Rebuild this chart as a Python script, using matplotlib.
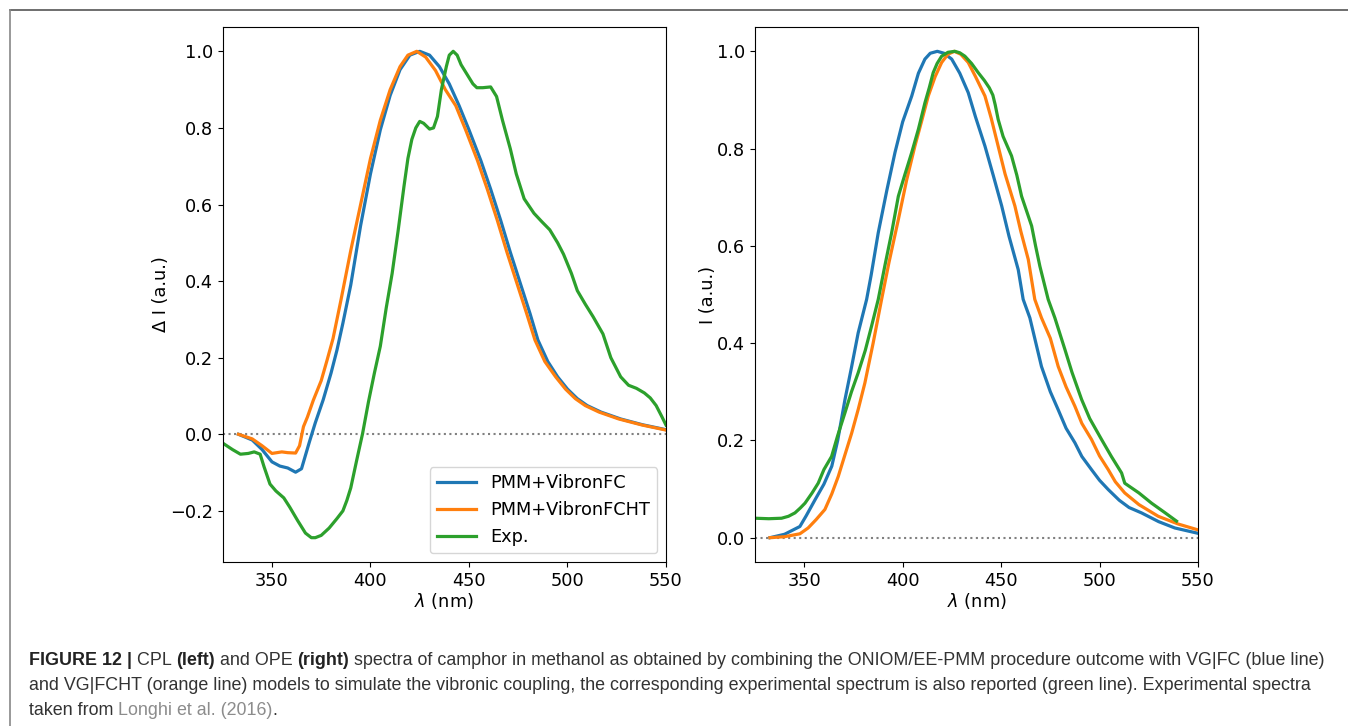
import numpy as np
import matplotlib
matplotlib.use("Agg")
import matplotlib.pyplot as plt
from matplotlib.lines import Line2D

# ---- CPL (left panel) ----
cpl_fc_x = [333, 340, 345, 350, 354, 358, 362, 365, 369, 372, 376, 380, 383, 386, 390, 395,
            400, 405, 410, 415, 420, 425, 430, 435, 440, 445, 450, 456, 461, 466, 471, 476,
            481, 485, 490, 495, 500, 505, 510, 517, 527, 538, 550]
cpl_fc_y = [0.0, -0.015, -0.04, -0.072, -0.083, -0.088, -0.099, -0.09, -0.02, 0.03, 0.09, 0.16,
            0.22, 0.29, 0.39, 0.545, 0.68, 0.795, 0.885, 0.952, 0.99, 1.0, 0.99, 0.96, 0.915,
            0.858, 0.795, 0.715, 0.64, 0.56, 0.475, 0.395, 0.315, 0.246, 0.19, 0.15, 0.118,
            0.093, 0.075, 0.058, 0.04, 0.025, 0.012]
cpl_fcht_x = [333, 340, 345, 350, 355, 358, 362, 364, 366, 368, 371, 375, 378, 381, 385, 390,
              395, 400, 405, 410, 415, 419, 423.5, 428, 433, 438, 443.3, 448.3, 454.3, 459.3,
              464.3, 469.3, 474.3, 479.3, 483.5, 488.5, 494, 499, 504, 509, 516, 526, 538, 550]
cpl_fcht_y = [0.0, -0.012, -0.03, -0.05, -0.046, -0.048, -0.049, -0.03, 0.02, 0.045, 0.089,
              0.14, 0.194, 0.25, 0.35, 0.48, 0.6, 0.72, 0.82, 0.9, 0.96, 0.99, 1.0, 0.985,
              0.95, 0.9, 0.858, 0.795, 0.715, 0.64, 0.56, 0.475, 0.395, 0.315, 0.246, 0.19,
              0.15, 0.118, 0.093, 0.075, 0.058, 0.04, 0.024, 0.011]
cpl_exp_x = [325, 330, 334, 338, 341, 344, 346, 349, 352, 356, 359, 363, 367, 370, 372, 375,
             379, 383, 386, 388, 390, 393, 396, 399, 402, 405, 408, 411, 414, 417, 419, 421,
             423, 425, 427, 430, 432, 434, 436, 438.5, 440, 442, 444, 446, 449, 452, 454,
             457, 461, 464, 467, 471, 474, 478, 483, 487, 491, 495, 498, 502, 505, 509, 513,
             518, 522, 527, 531, 535, 539, 542, 545, 548, 550]
cpl_exp_y = [-0.023, -0.04, -0.052, -0.05, -0.046, -0.052, -0.085, -0.13, -0.148, -0.166,
             -0.19, -0.225, -0.258, -0.27, -0.27, -0.264, -0.245, -0.22, -0.2, -0.173, -0.14,
             -0.068, 0.002, 0.085, 0.16, 0.23, 0.33, 0.42, 0.53, 0.647, 0.72, 0.77, 0.8, 0.817,
             0.812, 0.797, 0.8, 0.83, 0.9, 0.96, 0.99, 1.0, 0.99, 0.965, 0.94, 0.915, 0.905,
             0.905, 0.907, 0.882, 0.82, 0.745, 0.68, 0.615, 0.577, 0.555, 0.534, 0.5, 0.47,
             0.42, 0.375, 0.34, 0.307, 0.262, 0.2, 0.15, 0.128, 0.12, 0.108, 0.095, 0.075,
             0.045, 0.024]

# ---- OPE (right panel) ----
ope_fc_x = [332.6, 340, 347.8, 351, 355.5, 360, 364, 367, 370.7, 374, 377.4, 381.7, 384,
            387.6, 392, 396.1, 400, 404.6, 408, 411.3, 414, 417.6, 421, 424.9, 429, 433.3,
            437, 441.8, 446, 450.3, 454, 458.7, 461.2, 464.6, 470.5, 475, 479, 483, 487.5,
            491, 495.9, 500, 504.4, 510, 515, 521.3, 530, 538.2, 550]
ope_fc_y = [0.0, 0.007, 0.023, 0.045, 0.078, 0.11, 0.147, 0.2, 0.284, 0.35, 0.421, 0.49,
            0.54, 0.627, 0.715, 0.792, 0.855, 0.908, 0.955, 0.984, 0.996, 1.0, 0.996, 0.984,
            0.955, 0.915, 0.865, 0.805, 0.745, 0.682, 0.62, 0.551, 0.49, 0.452, 0.352, 0.3,
            0.263, 0.225, 0.195, 0.167, 0.14, 0.118, 0.099, 0.077, 0.062, 0.051, 0.033, 0.02,
            0.009]
ope_fcht_x = [332.6, 340, 347.8, 352, 356, 360.5, 364, 367.3, 370.5, 374.1, 377.5, 380.8,
              385, 389.3, 393, 397.8, 402, 406.2, 410, 413, 416.5, 419.8, 423, 426.2, 429.5,
              433.3, 437, 441.8, 445, 448.5, 452, 457, 460, 463.8, 467.1, 470.5, 475, 479,
              483, 487.5, 491, 495.9, 500, 504.4, 508, 512.8, 520, 529.8, 540, 550]
ope_fcht_y = [0.0, 0.002, 0.008, 0.02, 0.037, 0.058, 0.09, 0.126, 0.168, 0.215, 0.265, 0.318,
              0.4, 0.49, 0.565, 0.654, 0.735, 0.805, 0.862, 0.908, 0.948, 0.977, 0.994, 1.0,
              0.994, 0.977, 0.948, 0.908, 0.862, 0.805, 0.748, 0.682, 0.63, 0.572, 0.49,
              0.452, 0.41, 0.352, 0.31, 0.27, 0.235, 0.202, 0.168, 0.14, 0.115, 0.092, 0.068,
              0.044, 0.028, 0.016]
ope_exp_x = [325, 332, 338.5, 342, 345.3, 348, 350.4, 354, 357.1, 360, 363.9, 367, 370.7,
             374, 377.4, 381, 384.2, 387.6, 391, 394.4, 397.8, 401, 404.6, 408, 411.3, 413.5,
             415.5, 417.5, 419.8, 423, 426.5, 429, 431.6, 435, 438.4, 441.5, 444, 445.8,
             447, 448.5, 451, 455.3, 458, 460.4, 465.5, 467.5, 469.7, 473.9, 477.3, 482.4,
             486, 490.9, 495, 501, 506, 511.2, 512.8, 520, 526.4, 533, 539.1]
ope_exp_y = [0.04, 0.039, 0.04, 0.044, 0.051, 0.061, 0.071, 0.092, 0.112, 0.14, 0.167,
             0.21, 0.257, 0.3, 0.339, 0.385, 0.435, 0.49, 0.56, 0.627, 0.702, 0.745, 0.792,
             0.84, 0.894, 0.925, 0.956, 0.975, 0.99, 0.998, 1.0, 0.997, 0.99, 0.975, 0.956,
             0.94, 0.925, 0.91, 0.89, 0.86, 0.825, 0.785, 0.745, 0.702, 0.641, 0.6, 0.558,
             0.49, 0.452, 0.387, 0.34, 0.284, 0.245, 0.202, 0.167, 0.133, 0.112, 0.092,
             0.071, 0.052, 0.034]

series_labels = ["PMM+VibronFC", "PMM+VibronFCHT", "Exp."]
colors = ["#1f77b4", "#ff7f0e", "#2ca02c"]

W, H = 1348, 726
fig = plt.figure(figsize=(W / 100, H / 100), dpi=100)
plt.rcParams["font.family"] = "DejaVu Sans"
tick_fs = 12.8
lw = 2.3

ax1 = fig.add_axes([222.7 / W, 164 / H, 443.3 / W, 535 / H])
ax2 = fig.add_axes([755 / W, 164 / H, 443 / W, 535 / H])

ax1.plot(cpl_fc_x, cpl_fc_y, color=colors[0], lw=lw, label=series_labels[0])
ax1.plot(cpl_fcht_x, cpl_fcht_y, color=colors[1], lw=lw, label=series_labels[1])
ax1.plot(cpl_exp_x, cpl_exp_y, color=colors[2], lw=lw, label=series_labels[2])
ax1.axhline(0, color="gray", ls=":", lw=1.5, zorder=0)
ax1.set_xlim(325, 550)
ax1.set_ylim(-0.3335, 1.0635)
ax1.set_xticks([350, 400, 450, 500, 550])
ax1.set_yticks([-0.2, 0.0, 0.2, 0.4, 0.6, 0.8, 1.0])
ax1.set_xlabel(r"$\lambda$ (nm)", fontsize=tick_fs, labelpad=1)
ax1.set_ylabel("\u0394 I (a.u.)", fontsize=tick_fs, labelpad=0)
ax1.legend(loc="lower right", fontsize=tick_fs, handlelength=2.2)

ax2.plot(ope_fc_x, ope_fc_y, color=colors[0], lw=lw)
ax2.plot(ope_fcht_x, ope_fcht_y, color=colors[1], lw=lw)
ax2.plot(ope_exp_x, ope_exp_y, color=colors[2], lw=lw)
ax2.axhline(0, color="gray", ls=":", lw=1.5, zorder=0)
ax2.set_xlim(325, 550)
ax2.set_ylim(-0.05, 1.05)
ax2.set_xticks([350, 400, 450, 500, 550])
ax2.set_yticks([0.0, 0.2, 0.4, 0.6, 0.8, 1.0])
ax2.set_xlabel(r"$\lambda$ (nm)", fontsize=tick_fs, labelpad=1)
ax2.set_ylabel("I (a.u.)", fontsize=tick_fs, labelpad=0)

for ax in (ax1, ax2):
    ax.tick_params(labelsize=tick_fs)

# frame around the figure panel
fig.add_artist(Line2D([10 / W, 1], [1 - 10 / H, 1 - 10 / H], color="#555555", lw=1.2,
                      transform=fig.transFigure))
fig.add_artist(Line2D([10 / W, 10 / W], [0, 1 - 10 / H], color="#888888", lw=1.2,
                      transform=fig.transFigure))

# caption, drawn piece by piece
cap_fs = 12.9
cap_font = "Liberation Sans"
renderer = fig.canvas.get_renderer()
caption_lines = [
    [("FIGURE 12 |", "bold", "#222222"), (" CPL ", "normal", "#333333"),
     ("(left)", "bold", "#222222"), (" and OPE ", "normal", "#333333"),
     ("(right)", "bold", "#222222"),
     (" spectra of camphor in methanol as obtained by combining the ONIOM/EE-PMM procedure "
      "outcome with VG|FC (blue line)", "normal", "#333333")],
    [("and VG|FCHT (orange line) models to simulate the vibronic coupling, the corresponding "
      "experimental spectrum is also reported (green line). Experimental spectra",
      "normal", "#333333")],
    [("taken from ", "normal", "#333333"), ("Longhi et al. (2016)", "normal", "#8c8c8c"),
     (".", "normal", "#333333")],
]
baselines = [665, 690, 715]
for parts, base in zip(caption_lines, baselines):
    x = 29
    for txt, weight, col in parts:
        t = fig.text(x / W, 1 - base / H, txt, fontsize=cap_fs, fontweight=weight,
                     color=col, family=cap_font, va="baseline", ha="left")
        x += t.get_window_extent(renderer).width

fig.savefig("out.png", dpi=100)
